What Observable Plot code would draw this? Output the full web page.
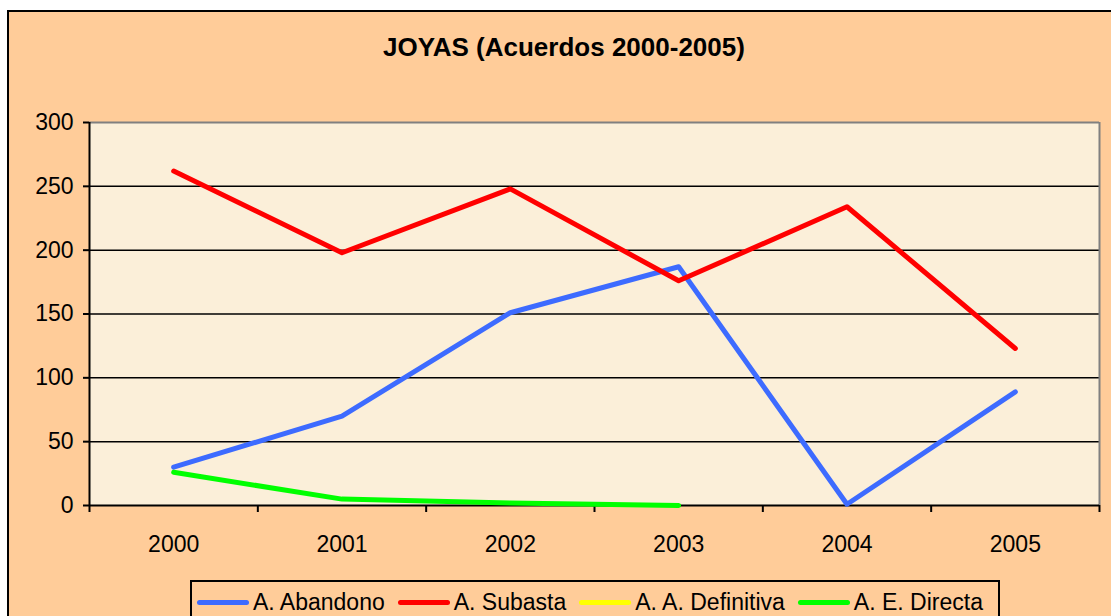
<!DOCTYPE html>
<html>
<head>
<meta charset="utf-8">
<script src="https://cdn.jsdelivr.net/npm/d3@7"></script>
<script src="https://cdn.jsdelivr.net/npm/@observablehq/plot@0.6"></script>
<style>
  html, body { margin: 0; padding: 0; width: 1111px; height: 616px; overflow: hidden; background: #fff; font-family: "Liberation Sans", Arial, sans-serif; }
  #frame { position: absolute; left: 7px; top: 10px; width: 1120px; height: 620px; background: #FFCC99; border: 2px solid #000; box-sizing: border-box; }
  #title { position: absolute; left: 0; width: 1128px; top: 32px; text-align: center; font-weight: bold; font-size: 26px; color: #000; }
  #chart { position: absolute; left: 0; top: 0; }
  #legend { position: absolute; left: 190px; top: 580px; width: 810px; height: 44px; border: 2px solid #000; box-sizing: border-box; background: #FFCC99; display: flex; align-items: center; padding-left: 5px; font-size: 23px; color: #000; white-space: nowrap; overflow: hidden; }
  .item { display: flex; align-items: center; margin-right: 13px; flex-shrink: 0; white-space: nowrap; }
  .sw { width: 52px; height: 5px; border-radius: 3px; margin-right: 4px; flex-shrink: 0; }
</style>
</head>
<body>
<div id="frame"></div>
<div id="title">JOYAS (Acuerdos 2000-2005)</div>
<div id="chart"></div>
<div id="legend"></div>
<script>
const years = [2000, 2001, 2002, 2003, 2004, 2005];
const seriesNames = ["A. Abandono", "A. Subasta", "A. A. Definitiva", "A. E. Directa"];
const seriesColors = ["#3D6BFF", "#FF0000", "#FFFF00", "#00FF00"];
const abandono   = [30, 70, 151, 187, 1, 89];
const subasta    = [262, 198, 248, 176, 234, 123];
const definitiva = [null, null, null, null, null, null];
const directa    = [26, 5, 2, 0, null, null];
const yTicks = [0, 50, 100, 150, 200, 250, 300];

const seriesValues = [abandono, subasta, definitiva, directa];
const rows = [];
seriesNames.forEach((name, i) => {
  years.forEach((yr, j) => {
    const v = seriesValues[i][j];
    if (v != null) rows.push({year: yr, value: v, series: name});
  });
});
const boundaries = years.map(y => y - 0.5).concat([years[years.length - 1] + 0.5]);

const chart = Plot.plot({
  width: 1111,
  height: 560,
  marginLeft: 89,
  marginRight: 12,
  marginTop: 122,
  marginBottom: 55,
  style: {background: "transparent", fontFamily: "Liberation Sans, Arial, sans-serif", fontSize: "23px", color: "#000", overflow: "visible"},
  x: {domain: [boundaries[0], boundaries[boundaries.length - 1]], axis: null},
  y: {domain: [0, 300], axis: null},
  color: {domain: seriesNames, range: seriesColors},
  marks: [
    Plot.frame({fill: "#FBEFD9", stroke: null}),
    Plot.ruleY(yTicks.slice(1, -1), {stroke: "#000", strokeWidth: 1.5}),
    Plot.ruleY([300], {stroke: "#808080", strokeWidth: 2}),
    Plot.ruleX([boundaries[boundaries.length - 1]], {stroke: "#808080", strokeWidth: 2}),
    Plot.axisY({ticks: yTicks, tickSize: 6, tickPadding: 10, tickFormat: d => String(d), fontSize: 23, stroke: "#000", strokeWidth: 2, label: null}),
    Plot.axisX({ticks: boundaries, tickSize: 7, tickFormat: () => "", stroke: "#000", strokeWidth: 2, label: null}),
    Plot.axisX({ticks: years, tickSize: 0, tickPadding: 30, tickFormat: d => String(d), fontSize: 23, label: null}),
    Plot.ruleX([boundaries[0]], {stroke: "#000", strokeWidth: 2}),
    Plot.ruleY([0], {stroke: "#000", strokeWidth: 2}),
    Plot.line(rows, {x: "year", y: "value", z: "series", stroke: "series", strokeWidth: 5, strokeLinecap: "round", strokeLinejoin: "round"})
  ]
});
document.getElementById("chart").appendChild(chart);

const legend = document.getElementById("legend");
seriesNames.forEach((name, i) => {
  const item = document.createElement("div");
  item.className = "item";
  const sw = document.createElement("div");
  sw.className = "sw";
  sw.style.background = seriesColors[i];
  const t = document.createElement("span");
  t.textContent = name;
  item.appendChild(sw);
  item.appendChild(t);
  legend.appendChild(item);
});
</script>
</body>
</html>
